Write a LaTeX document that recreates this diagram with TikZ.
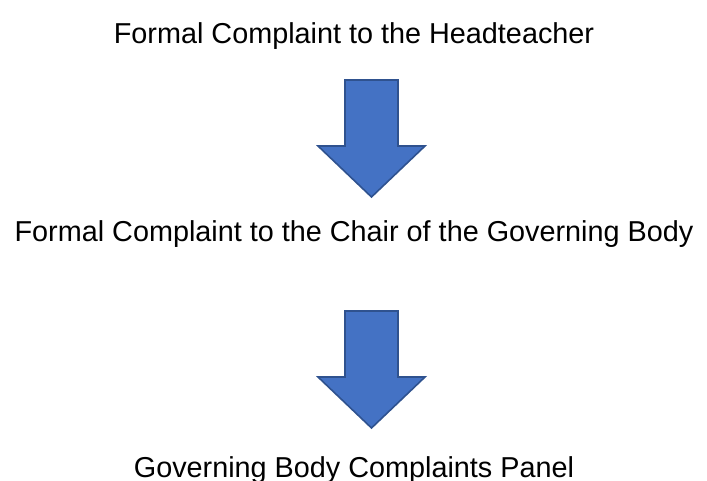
\documentclass[tikz,border=0pt]{standalone}
\usepackage{fontspec}
\setmainfont{Liberation Sans}
\usepackage{tikz}
\usetikzlibrary{positioning}
\definecolor{arrowfill}{HTML}{4472C4}
\definecolor{arrowline}{HTML}{2F528F}

\begin{document}
\begin{tikzpicture}
  [x=0.75pt,y=-0.75pt,
   every node/.style={inner sep=0pt,anchor=base,font=\fontsize{21.6}{26}\selectfont},
   blockarrow/.style={fill=arrowfill,draw=arrowline,line width=1.2pt,line join=miter}]
  \useasboundingbox (0,0) rectangle (707,481);
  \node (head) at (354,44) {Formal Complaint to the Headteacher};
  \node (chair) at (354,242) {Formal Complaint to the Chair of the Governing Body};
  \node (panel) at (354,477) {Governing Body Complaints Panel};

  \foreach \top/\mid/\tip in {80/146/197,311/377/428}
    \draw[blockarrow] (345,\top) -- (398,\top) -- (398,\mid) -- (425,\mid)
      -- (371.5,\tip) -- (318,\mid) -- (345,\mid) -- cycle;
\end{tikzpicture}
\end{document}
